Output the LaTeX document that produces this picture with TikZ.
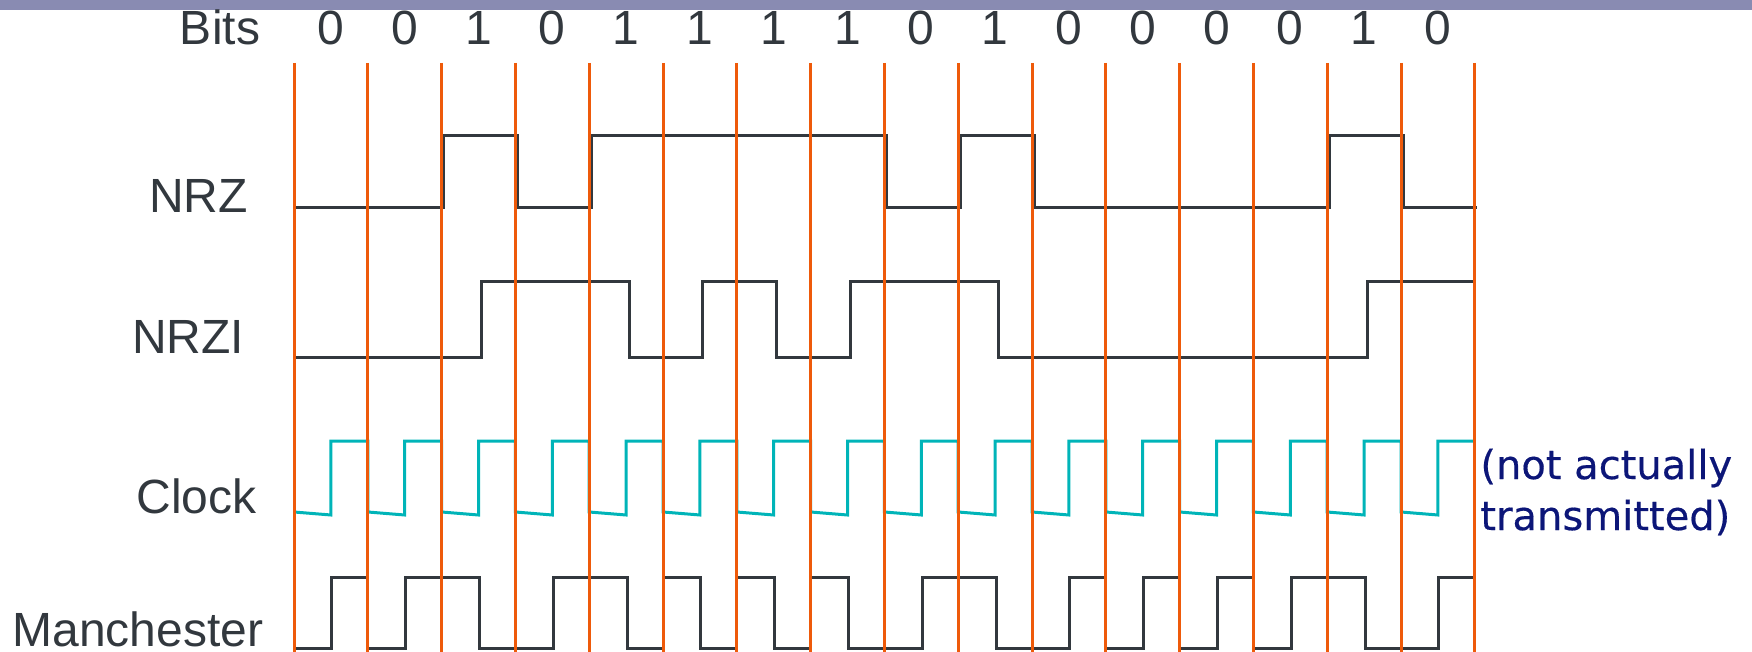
\documentclass[tikz,border=0pt]{standalone}
\usepackage{fontspec}
\setmainfont{Liberation Sans}
\newfontfamily\noteFont[FakeBold=0.4]{DejaVu Sans}
\definecolor{barcol}{RGB}{137,139,178}
\definecolor{gridcol}{RGB}{238,90,10}
\definecolor{sigcol}{RGB}{50,56,62}
\definecolor{clkcol}{RGB}{0,180,184}
\definecolor{notecol}{RGB}{12,22,120}
\def\bb#1{294+73.8*(#1)}
\tikzset{
  gridline/.style={draw=gridcol, line width=1.5pt},
  sig/.style={draw=sigcol, line width=1.5pt},
  clk/.style={draw=clkcol, line width=1.5pt},
  lbl/.style={text=sigcol, font=\fontsize{24}{28}\selectfont, inner sep=0pt, anchor=base},
  note/.style={text=notecol, font=\noteFont\fontsize{20}{24}\selectfont, inner sep=0pt, anchor=base west}
}
\begin{document}
\begin{tikzpicture}[x=0.5pt, y=-0.5pt]
\useasboundingbox (0,0) rectangle (1752,652);
\fill[barcol] (0,0) rectangle (1752,10);
% labels
\node[lbl] (bits) at (220,45) {Bits};
\foreach \i/\b in {0/0,1/0,2/1,3/0,4/1,5/1,6/1,7/1,8/0,9/1,10/0,11/0,12/0,13/0,14/1,15/0}
  \node[lbl] (d\i) at ({\bb{\i+0.5}},45) {\b};
\node[lbl] (nrz) at (198.5,213) {NRZ};
\node[lbl] (nrzi) at (188,354) {NRZI};
\node[lbl] (clock) at (196.5,513) {Clock};
\node[lbl] (manch) at (138,646) {Manchester};
\node[note] (note1) at (1480,479) {(not actually};
\node[note] (note2) at (1480,530) {transmitted)};
% NRZ
\draw[sig] ({\bb{0}},208)
  foreach \i/\b in {0/0,1/0,2/1,3/0,4/1,5/1,6/1,7/1,8/0,9/1,10/0,11/0,12/0,13/0,14/1,15/0}
  { -- ({\bb{\i}+2},{208-72*\b}) -- ({\bb{\i+1}+2},{208-72*\b}) };
% NRZI
\draw[sig] ({\bb{0}},358)
  foreach \i/\a/\c in {0/0/0,1/0/0,2/0/1,3/1/1,4/1/0,5/0/1,6/1/0,7/0/1,8/1/1,9/1/0,10/0/0,11/0/0,12/0/0,13/0/0,14/0/1,15/1/1}
  { -- ({\bb{\i}},{358-76*\a}) -- ({\bb{\i+0.5}+3},{358-76*\a}) -- ({\bb{\i+0.5}+3},{358-76*\c}) -- ({\bb{\i+1}},{358-76*\c}) };
% Clock
\draw[clk] ({\bb{0}},512)
  foreach \i in {0,...,14}
  { -- ({\bb{\i+0.5}},515) -- ({\bb{\i+0.5}},441) -- ({\bb{\i+1}},441) -- ({\bb{\i+1}},512) }
  -- ({\bb{15.5}},515) -- ({\bb{15.5}},441) -- ({\bb{16}},441);
% Manchester
\draw[sig] ({\bb{0}},648)
  foreach \i/\b in {0/0,1/0,2/1,3/0,4/1,5/1,6/1,7/1,8/0,9/1,10/0,11/0,12/0,13/0,14/1,15/0}
  { -- ({\bb{\i}},{648-71*\b}) -- ({\bb{\i+0.5}+1},{648-71*\b}) -- ({\bb{\i+0.5}+1},{648-71*(1-\b)}) -- ({\bb{\i+1}},{648-71*(1-\b)}) };
% bit boundaries
\foreach \i in {0,...,16}
  \draw[gridline] ({\bb{\i}},63) -- ({\bb{\i}},652);
\end{tikzpicture}
\end{document}
